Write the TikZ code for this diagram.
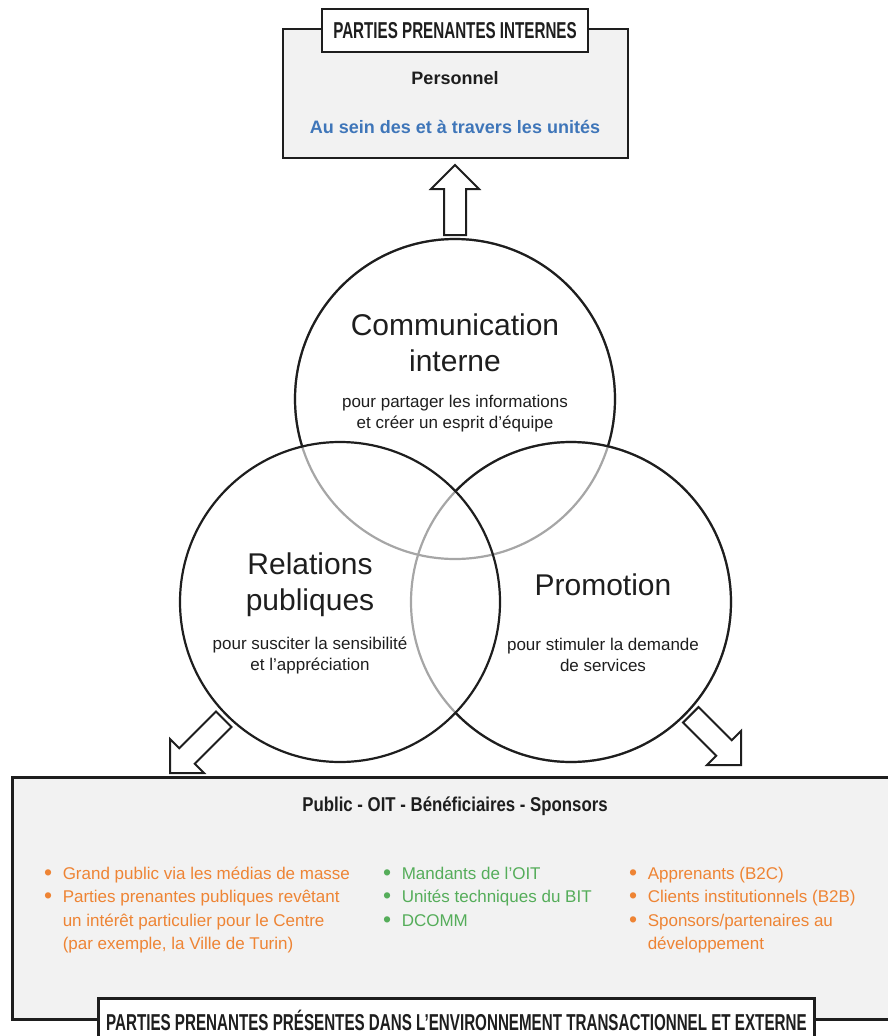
\documentclass[tikz,border=0pt]{standalone}
\usepackage{fontspec}
\setmainfont{Liberation Sans}
\newfontfamily\condfont{Liberation Sans}[FakeStretch=0.66]
\newfontfamily\semicondfont{Liberation Sans}[FakeStretch=0.84]
\usetikzlibrary{positioning}
\definecolor{boxgray}{HTML}{F2F2F2}
\definecolor{linegray}{HTML}{A6A6A6}
\definecolor{textblue}{HTML}{3F76B9}
\definecolor{textorange}{HTML}{EE8434}
\definecolor{textgreen}{HTML}{55AD5A}
\definecolor{ink}{HTML}{1E1E1E}
\newcommand\dotmark{\raisebox{-1pt}{\fontsize{23}{0}\selectfont\textbullet}}
\tikzset{
  panel/.style={draw=ink, line width=2.8pt, fill=boxgray, inner sep=0pt},
  tag/.style={draw=ink, line width=2.8pt, fill=white, inner sep=0pt,
    font=\condfont\bfseries\fontsize{23}{25}\selectfont, text=ink},
  ring/.style={draw=ink, line width=2.2pt},
  ringlight/.style={draw=linegray, line width=2.2pt},
  bigtitle/.style={font=\fontsize{30}{36}\selectfont, align=center, text=ink},
  subtext/.style={font=\fontsize{17}{21}\selectfont, align=center, text=ink},
  bullets/.style={inner sep=0pt, anchor=north west, font=\fontsize{17}{23.5}\selectfont},
  arrowline/.style={draw=ink, line width=2pt, fill=white, line join=miter},
  pics/bigarrow/.style={code={
    \draw[arrowline] (0,0) -- (-24,24) -- (-24,11) -- (-#1,11) -- (-#1,-11)
      -- (-24,-11) -- (-24,-24) -- cycle;}}
}
\begin{document}
\begin{tikzpicture}[x=1pt,y=-1pt]
  \useasboundingbox (0,0) rectangle (887,1036);
  % internal stakeholders
  \node[panel, minimum width=345, minimum height=129] (internbox) at (455.5,93.5) {};
  \node[tag, minimum width=266, minimum height=43] (interntag) at (455,30.5) {PARTIES PRENANTES INTERNES};
  \node[font=\bfseries\fontsize{18}{22}\selectfont, text=ink] (staff) at (455,78) {Personnel};
  \node[font=\bfseries\fontsize{18}{22}\selectfont, text=textblue] (units) at (455,127) {Au sein des et à travers les unités};

  % the three circles
  \coordinate (ctop) at (455,399);
  \coordinate (cleft) at (340,602);
  \coordinate (cright) at (571,602);
  \draw[ringlight] (ctop) circle[radius=160];
  \draw[ringlight] (cright) circle[radius=160];
  \draw[ring] (cleft) circle[radius=160];
  \begin{scope}[even odd rule]
    \clip (0,0) rectangle (887,1036) (cleft) circle[radius=160];
    \draw[ring] (cright) circle[radius=160];
    \begin{scope}
      \clip (0,0) rectangle (887,1036) (cright) circle[radius=160];
      \draw[ring] (ctop) circle[radius=160];
    \end{scope}
  \end{scope}

  \node[bigtitle] (commtitle) at (455,343) {Communication\\interne};
  \node[subtext] (commtext) at (455,414) {pour partager les informations\\et créer un esprit d’équipe};
  \node[bigtitle] (reltitle) at (310,585) {Relations\\publiques};
  \node[subtext] (reltext) at (310,655) {pour susciter la sensibilité\\et l’appréciation};
  \node[bigtitle] (promotitle) at (603,585) {Promotion};
  \node[subtext] (promotext) at (603,655) {pour stimuler la demande\\de services};

  % hollow arrows
  \pic[rotate=90] at (455,165) {bigarrow=70};
  \pic[rotate=225] at (170,773) {bigarrow=76};
  \pic[rotate=315] at (741,765) {bigarrow=71};

  % external stakeholders
  \node[panel, minimum width=900, minimum height=242, anchor=north west] (externbox) at (11,776) {};
  \node[font=\semicondfont\bfseries\fontsize{20}{22}\selectfont, text=ink] (groups) at (455,806) {Public - OIT - Bénéficiaires - Sponsors};
  \node[bullets, text=textorange] (colpublic) at (44,862.5) {\begin{tabular}{@{}l@{\hspace{10.5pt}}l@{}}
    \dotmark & Grand public via les médias de masse\\
    \dotmark & Parties prenantes publiques revêtant\\
     & un intérêt particulier pour le Centre\\
     & (par exemple, la Ville de Turin)
  \end{tabular}};
  \node[bullets, text=textgreen] (coloit) at (383,862.5) {\begin{tabular}{@{}l@{\hspace{10.5pt}}l@{}}
    \dotmark & Mandants de l’OIT\\
    \dotmark & Unités techniques du BIT\\
    \dotmark & DCOMM
  \end{tabular}};
  \node[bullets, text=textorange] (colclients) at (629,862.5) {\begin{tabular}{@{}l@{\hspace{10.5pt}}l@{}}
    \dotmark & Apprenants (B2C)\\
    \dotmark & Clients institutionnels (B2B)\\
    \dotmark & Sponsors/partenaires au\\
     & développement
  \end{tabular}};
  \node[tag, minimum width=716, minimum height=44, anchor=north west] (externtag) at (97,997) {PARTIES PRENANTES PRÉSENTES DANS L’ENVIRONNEMENT TRANSACTIONNEL ET EXTERNE};
\end{tikzpicture}
\end{document}
